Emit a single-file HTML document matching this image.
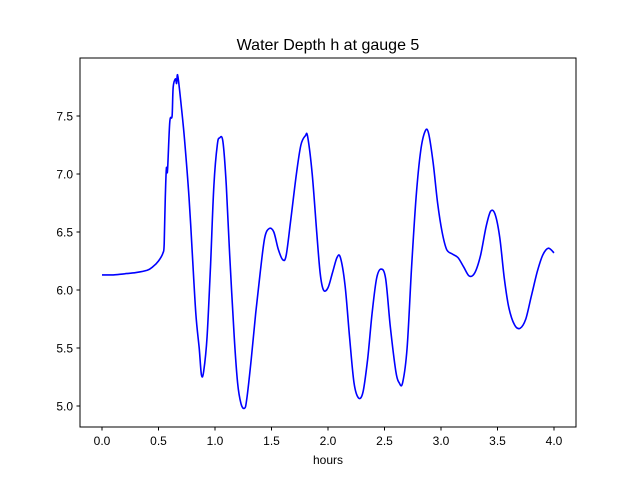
<!DOCTYPE html>
<html><head><meta charset="utf-8"><style>
body{margin:0;background:#fff;width:640px;height:480px;overflow:hidden}
svg text{font-family:"Liberation Sans","DejaVu Sans",sans-serif;fill:#000}
</style></head><body>
<svg id="chart" width="640" height="480" xmlns="http://www.w3.org/2000/svg">
<rect width="640" height="480" fill="#fff"/>
<text x="328" y="50" font-size="16" text-anchor="middle">Water Depth h at gauge 5</text>
<g id="ticks"></g>
<path id="line" fill="none" stroke="#0000ff" stroke-width="1.6" stroke-linejoin="round"/>
<rect x="80" y="58" width="496" height="369" fill="none" stroke="#000" stroke-width="1"/>
<text x="328" y="464" font-size="12" text-anchor="middle">hours</text>
</svg>
<script>
const hours=[0,0.1,0.2,0.3,0.4,0.45,0.5,0.54,0.55,0.56,0.57,0.58,0.6,0.62,0.63,0.65,0.66,0.67,0.7,0.73,0.77,0.8,0.83,0.86,0.88,0.9,0.93,0.96,0.99,1.02,1.04,1.07,1.1,1.13,1.17,1.2,1.23,1.26,1.28,1.32,1.36,1.4,1.44,1.48,1.52,1.56,1.6,1.63,1.67,1.72,1.76,1.8,1.82,1.86,1.9,1.93,1.96,2.0,2.04,2.08,2.11,2.15,2.19,2.23,2.27,2.31,2.35,2.39,2.43,2.47,2.51,2.55,2.6,2.63,2.66,2.7,2.74,2.78,2.82,2.86,2.89,2.93,2.97,3.01,3.05,3.1,3.15,3.2,3.25,3.3,3.35,3.4,3.44,3.48,3.52,3.56,3.6,3.65,3.7,3.75,3.8,3.85,3.9,3.95,4.0];
const depth=[6.13,6.13,6.14,6.15,6.17,6.2,6.25,6.32,6.4,6.8,7.05,7.03,7.45,7.5,7.75,7.82,7.78,7.85,7.6,7.3,6.8,6.3,5.8,5.5,5.27,5.3,5.6,6.2,6.9,7.25,7.31,7.28,6.9,6.3,5.6,5.2,5.02,4.98,5.05,5.4,5.8,6.15,6.45,6.53,6.5,6.35,6.26,6.3,6.6,7.0,7.25,7.33,7.32,7.0,6.5,6.15,6.0,6.02,6.15,6.28,6.28,6.05,5.6,5.2,5.07,5.12,5.4,5.8,6.1,6.18,6.1,5.7,5.3,5.2,5.2,5.5,6.2,6.8,7.2,7.37,7.35,7.1,6.75,6.5,6.35,6.31,6.28,6.2,6.12,6.15,6.3,6.55,6.68,6.65,6.45,6.1,5.85,5.7,5.67,5.75,5.95,6.15,6.3,6.36,6.32];
const xTicks=[0,0.5,1,1.5,2,2.5,3,3.5,4];
const yTicks=[5,5.5,6,6.5,7,7.5];
const X=v=>102+v*113, Y=v=>406-(v-5)*116;
const ns="http://www.w3.org/2000/svg", g=document.getElementById('ticks');
function mk(t,a){const e=document.createElementNS(ns,t);for(const k in a)e.setAttribute(k,a[k]);g.appendChild(e);return e;}
xTicks.forEach(v=>{
 const l=mk('line',{x1:X(v),x2:X(v),y1:427,y2:430.5,stroke:'#000'});
 
 
 const t=mk('text',{x:X(v),y:445,'font-size':12,'text-anchor':'middle'});t.textContent=v.toFixed(1);
 
 
});
yTicks.forEach(v=>{
 const l=mk('line',{x1:76.5,x2:80,y1:Y(v),y2:Y(v),stroke:'#000'});
 
 
 const t=mk('text',{x:73,y:Y(v)+4.5,'font-size':12,'text-anchor':'end'});t.textContent=v.toFixed(1);
 
 
});
const P=hours.map((h,i)=>[X(h),Y(depth[i])]);
let d='M'+P[0][0].toFixed(1)+','+P[0][1].toFixed(1);
for(let i=0;i<P.length-1;i++){
 const p0=P[Math.max(0,i-1)],p1=P[i],p2=P[i+1],p3=P[Math.min(P.length-1,i+2)];
 const c1=[p1[0]+(p2[0]-p0[0])/6,p1[1]+(p2[1]-p0[1])/6];
 const c2=[p2[0]-(p3[0]-p1[0])/6,p2[1]-(p3[1]-p1[1])/6];
 d+='C'+c1.map(v=>v.toFixed(1)).join(',')+' '+c2.map(v=>v.toFixed(1)).join(',')+' '+p2.map(v=>v.toFixed(1)).join(',');
}
document.getElementById('line').setAttribute('d',d);
</script>
</body></html>
